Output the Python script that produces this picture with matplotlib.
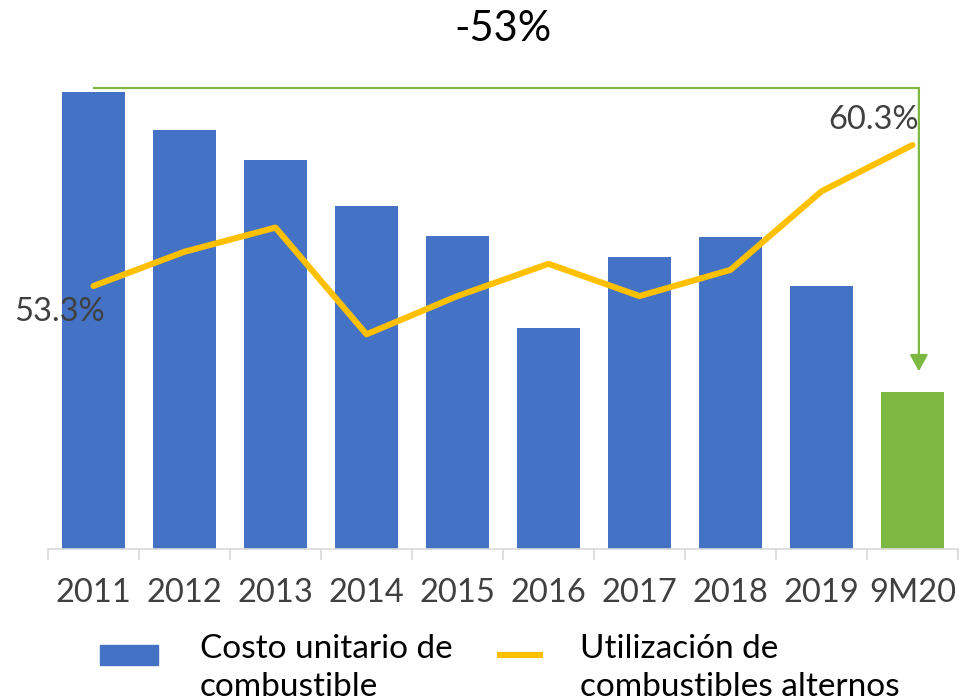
import matplotlib
matplotlib.use("Agg")
import matplotlib.pyplot as plt
from matplotlib.patches import Rectangle
from matplotlib.lines import Line2D

plt.rcParams['font.family'] = ['Lato', 'DejaVu Sans']

# ── data ─────────────────────────────────────────────────────────────────────
periods = ["2011", "2012", "2013", "2014", "2015", "2016", "2017", "2018", "2019", "9M20"]
costo = [100, 91.7, 85.1, 75.1, 68.5, 48.4, 63.9, 68.3, 57.5, 34.4]      # index, 2011 = 100
utilizacion = [53.3, 55.0, 56.2, 50.9, 52.8, 54.4, 52.8, 54.1, 58.0, 60.3]  # %
change_label = "-53%"

BLUE = "#4472C4"
GREEN = "#7DB843"
YELLOW = "#FFC000"
TXT = "#404040"

fig = plt.figure(figsize=(9.59, 7.0), dpi=100)
ax = fig.add_axes([48 / 959, 1 - 549 / 700, 910 / 959, 489 / 700])
x = list(range(len(periods)))

colors = [BLUE] * (len(periods) - 1) + [GREEN]
ax.bar(x, costo, width=0.7, color=colors, zorder=2)
ax.set_xlim(-0.5, len(periods) - 0.5)
ax.set_ylim(0, 107.0)

# secondary axis for the line
ax2 = ax.twinx()
ax2.plot(x, utilizacion, color=YELLOW, lw=4.4, solid_capstyle="round",
         solid_joinstyle="round", zorder=3)
ax2.set_ylim(40.24, 64.52)
ax2.axis("off")

ax2.text(x[0] + 0.12, utilizacion[0] - 1.3, f"{utilizacion[0]:.1f}%", ha="right", va="center",
         fontsize=23.5, color=TXT)
ax2.text(x[-1] + 0.07, utilizacion[-1] + 0.5, f"{utilizacion[-1]:.1f}%", ha="right", va="bottom",
         fontsize=23.5, color=TXT)

# axes styling
for s in ["top", "right", "left"]:
    ax.spines[s].set_visible(False)
ax.spines["bottom"].set_color("#D9D9D9")
ax.spines["bottom"].set_linewidth(1.2)
ax.set_yticks([])
ax.set_xticks(x)
ax.set_xticklabels(periods, fontsize=23.5, color=TXT)
ax.tick_params(axis="x", length=0, pad=21)
ax.set_xticks([i - 0.5 for i in range(len(periods) + 1)], minor=True)
ax.tick_params(axis="x", which="minor", length=8, color="#D9D9D9", width=1.2)

# green change arrow: from top of 2011 across and down to 9M20
y_top = costo[0] + 0.8
x_end = x[-1] + 0.07
ax.plot([x[0], x_end], [y_top, y_top], color=GREEN, lw=1.6, clip_on=False, zorder=4)
ax.annotate("", xy=(x_end, costo[-1] + 4.5), xytext=(x_end, y_top),
            arrowprops=dict(arrowstyle="-|>,head_length=1.0,head_width=0.55",
                            color=GREEN, lw=1.6, shrinkA=0, shrinkB=0),
            annotation_clip=False, zorder=4)
fig.text(503 / 959, 1 - 29 / 700, change_label, ha="center", va="center",
         fontsize=30, color="black")

# legend drawn by hand to match the two-line layout
fig.patches.append(Rectangle((100 / 959, 1 - 665 / 700), 58 / 959, 20 / 700,
                             transform=fig.transFigure, color=BLUE))
fig.lines.append(Line2D([500 / 959, 540 / 959], [1 - 655 / 700] * 2,
                        transform=fig.transFigure, color=YELLOW, lw=4.4))
fig.text(200 / 959, 1 - 668 / 700, "Costo unitario de\ncombustible", ha="left", va="center",
         fontsize=24, color="black", linespacing=1.3)
fig.text(580 / 959, 1 - 668 / 700, "Utilización de\ncombustibles alternos", ha="left",
         va="center", fontsize=24, color="black", linespacing=1.3)

fig.savefig("out.png", dpi=100)
